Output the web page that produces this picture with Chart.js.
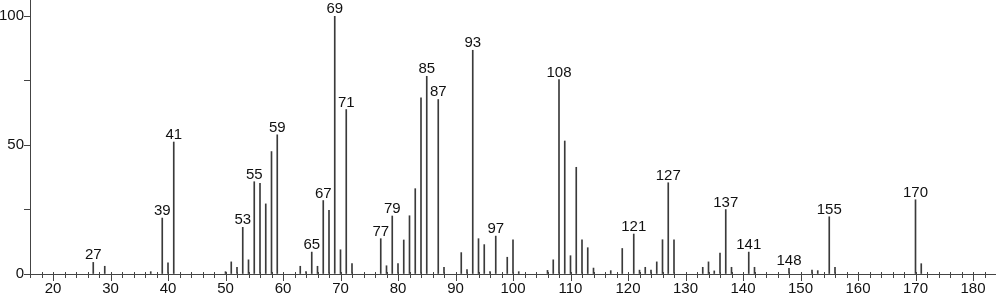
<!DOCTYPE html>
<html>
<head>
<meta charset="utf-8">
<script src="https://cdn.jsdelivr.net/npm/chart.js@4.4.1/dist/chart.umd.min.js"></script>
<style>
  html, body { margin: 0; padding: 0; background: #fff; }
  #wrap { width: 996px; height: 299px; }
</style>
</head>
<body>
<div id="wrap"><canvas id="spectrum" width="996" height="299"></canvas></div>
<script>
// m/z values and relative intensities
const masses = [27, 29, 37, 39, 40, 41, 50, 51, 52, 53, 54, 55, 56, 57, 58, 59,
  63, 64, 65, 66, 67, 68, 69, 70, 71, 72, 77, 78, 79, 80, 81, 82, 83, 84, 85, 87, 88,
  91, 92, 93, 94, 95, 96, 97, 99, 100, 101, 106, 107, 108, 109, 110, 111, 112, 113, 114,
  117, 119, 121, 122, 123, 124, 125, 126, 127, 128, 133, 134, 135, 136, 137, 138,
  141, 142, 148, 152, 153, 155, 156, 170, 171];
const intensities = [4.5, 3.0, 0.9, 21.7, 4.3, 51.2, 0.9, 4.7, 2.6, 18.1, 5.5, 35.8, 35.2, 27.2, 47.5, 54.0,
  3.0, 0.9, 8.5, 3.0, 28.5, 24.7, 100, 9.4, 63.8, 4.0, 13.7, 3.2, 22.5, 4.0, 13.2, 22.6, 33.1, 68.3, 76.7, 67.7, 2.6,
  8.3, 1.7, 86.8, 13.7, 11.4, 0.9, 14.7, 6.5, 13.3, 0.9, 1.4, 5.5, 75.4, 51.6, 7.1, 41.4, 13.3, 10.2, 2.3,
  1.3, 9.9, 15.5, 1.5, 2.6, 1.5, 4.7, 13.3, 35.4, 13.3, 2.6, 4.7, 1.2, 8.1, 25.0, 2.6,
  8.5, 2.6, 2.2, 1.5, 1.3, 22.2, 2.6, 28.8, 4.0];
// peaks that carry an m/z label
const labelledPeaks = [27, 39, 41, 53, 55, 59, 65, 67, 69, 71, 77, 79, 85, 87, 93, 97,
  108, 121, 127, 137, 141, 148, 155, 170];
const yTickValues = [0, 25, 50, 75, 100];

const FONT = '"Liberation Sans", Arial, sans-serif';

// writes m/z above labelled peaks
const peakLabels = {
  id: 'peakLabels',
  afterDatasetsDraw(chart) {
    const ctx = chart.ctx;
    const xs = chart.scales.x, ys = chart.scales.y;
    ctx.save();
    ctx.font = '15px ' + FONT;
    ctx.fillStyle = '#111';
    ctx.textAlign = 'center';
    ctx.textBaseline = 'alphabetic';
    labelledPeaks.forEach(m => {
      const i = masses.indexOf(m);
      if (i < 0) return;
      ctx.fillText(String(m), xs.getPixelForValue(m), ys.getPixelForValue(intensities[i]) - 3);
    });
    ctx.restore();
  }
};

// m/z tick marks: short ones across the axis every 2, longer ones every 10
const xTickMarks = {
  id: 'xTickMarks',
  afterDraw(chart) {
    const ctx = chart.ctx;
    const xs = chart.scales.x;
    const y0 = xs.top;
    ctx.save();
    ctx.strokeStyle = '#444';
    ctx.lineWidth = 1;
    xs.ticks.forEach(t => {
      const px = Math.round(xs.getPixelForValue(t.value)) + 0.5;
      const major = t.value % 10 === 0;
      ctx.beginPath();
      ctx.moveTo(px, y0 - 2);
      ctx.lineTo(px, y0 + (major ? 7 : 4));
      ctx.stroke();
    });
    ctx.restore();
  }
};

new Chart(document.getElementById('spectrum'), {
  type: 'bar',
  data: {
    datasets: [{
      data: masses.map((m, i) => ({ x: m, y: intensities[i] })),
      backgroundColor: '#3a3a3a',
      borderWidth: 0,
      barThickness: 1
    }]
  },
  options: {
    responsive: false,
    animation: false,
    devicePixelRatio: 1,
    layout: { padding: 0 },
    plugins: { legend: { display: false }, tooltip: { enabled: false } },
    scales: {
      x: {
        type: 'linear',
        min: 16,
        max: 184,
        offset: false,
        border: { color: '#444' },
        grid: { drawOnChartArea: false, drawTicks: false },
        afterFit: scale => {
          scale.height = 25;
          scale.paddingLeft = 0;
          scale.paddingRight = 0;
        },
        ticks: {
          stepSize: 2,
          autoSkip: false,
          maxRotation: 0,
          padding: 6,
          color: '#111',
          font: { family: FONT, size: 15 },
          callback: v => (v % 10 === 0 ? v : '')
        }
      },
      y: {
        min: 0,
        max: 106.3,
        border: { color: '#444' },
        grid: { drawOnChartArea: false, tickLength: 6, tickColor: '#444' },
        afterBuildTicks: scale => { scale.ticks = yTickValues.map(v => ({ value: v })); },
        afterFit: scale => {
          scale.width = 30;
          scale.paddingTop = 0;
          scale.paddingBottom = 0;
        },
        ticks: {
          padding: 0,
          color: '#111',
          font: { family: FONT, size: 15 },
          callback: v => (v % 50 === 0 ? v : '')
        }
      }
    }
  },
  plugins: [peakLabels, xTickMarks]
});
</script>
</body>
</html>
